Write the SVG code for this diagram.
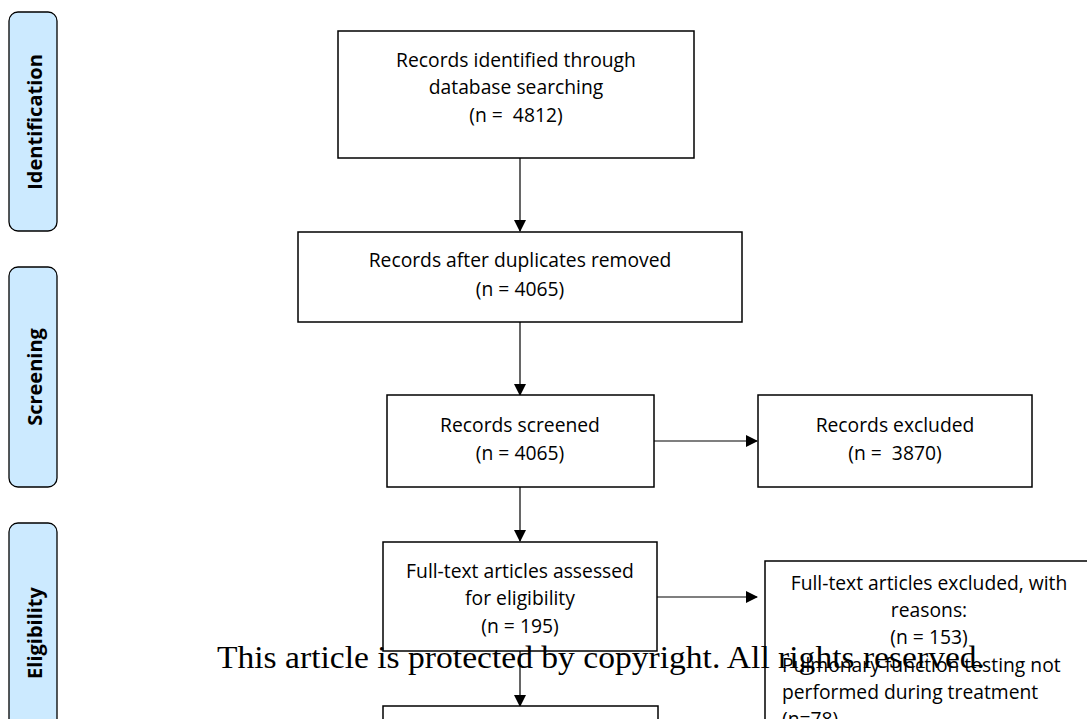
<svg xmlns="http://www.w3.org/2000/svg" width="1087" height="719" viewBox="0 0 1087 719">
<style>
.box{fill:#fff;stroke:#000;stroke-width:1.5}
.side{fill:#cceaff;stroke:#000;stroke-width:1.3}
.t{font-family:"Open Sans","Liberation Sans",sans-serif;font-size:19.3px;fill:#000;text-anchor:middle;white-space:pre}
.tl{font-family:"Open Sans","Liberation Sans",sans-serif;font-size:19.3px;fill:#000}
.st{font-family:"Open Sans","DejaVu Sans",sans-serif;font-size:20px;font-weight:bold;fill:#000;text-anchor:middle}
.c{stroke:#000;stroke-width:1.2;fill:none;marker-end:url(#ah)}
.wm{font-family:"Liberation Serif","DejaVu Serif",serif;font-size:32px;fill:#000}
</style>
<defs>
<marker id="ah" markerWidth="12" markerHeight="12" refX="11" refY="6" orient="auto" markerUnits="userSpaceOnUse">
<path d="M0,0 L12,6 L0,12 Z" fill="#000"/>
</marker>
</defs>
<rect width="1087" height="719" fill="#fff"/>
<g id="phase-identification">
<rect class="side" x="9" y="12" width="48" height="219" rx="9"/>
<text class="st" transform="translate(42,122) rotate(-90)">Identification</text>
</g>
<g id="phase-screening">
<rect class="side" x="9" y="267" width="48" height="220" rx="9"/>
<text class="st" transform="translate(42,377) rotate(-90)">Screening</text>
</g>
<g id="phase-eligibility">
<rect class="side" x="9" y="523" width="48" height="220" rx="9"/>
<text class="st" transform="translate(42,633) rotate(-90)">Eligibility</text>
</g>
<g id="connectors">
<line class="c" x1="520" y1="158" x2="520" y2="231"/>
<line class="c" x1="520" y1="322" x2="520" y2="395"/>
<line class="c" x1="654" y1="441" x2="757" y2="441"/>
<line class="c" x1="520" y1="487" x2="520" y2="541"/>
<line class="c" x1="657" y1="597" x2="757" y2="597"/>
<line class="c" x1="520" y1="651" x2="520" y2="706"/>
</g>
<g id="n1">
<rect class="box" x="338" y="31" width="356" height="127"/>
<text class="t" x="516" y="67">Records identified through</text>
<text class="t" x="516" y="94">database searching</text>
<text class="t" x="516" y="122" xml:space="preserve">(n =  4812)</text>
</g>
<g id="n2">
<rect class="box" x="298" y="232" width="444" height="90"/>
<text class="t" x="520" y="267">Records after duplicates removed</text>
<text class="t" x="520" y="296">(n = 4065)</text>
</g>
<g id="n3">
<rect class="box" x="387" y="395" width="267" height="92"/>
<text class="t" x="520" y="432">Records screened</text>
<text class="t" x="520" y="460">(n = 4065)</text>
</g>
<g id="n4">
<rect class="box" x="758" y="395" width="274" height="92"/>
<text class="t" x="895" y="432">Records excluded</text>
<text class="t" x="895" y="460" xml:space="preserve">(n =  3870)</text>
</g>
<g id="n5">
<rect class="box" x="383" y="542" width="274" height="109"/>
<text class="t" x="520" y="578">Full-text articles assessed</text>
<text class="t" x="520" y="605">for eligibility</text>
<text class="t" x="520" y="633">(n = 195)</text>
</g>
<g id="n6">
<rect class="box" x="765" y="561" width="340" height="200"/>
<text class="t" x="929" y="590">Full-text articles excluded, with</text>
<text class="t" x="929" y="617">reasons:</text>
<text class="t" x="929" y="644">(n = 153)</text>
<text class="tl" x="782" y="672">Pulmonary function testing not</text>
<text class="tl" x="782" y="699">performed during treatment</text>
<text class="tl" x="782" y="726">(n=78)</text>
</g>
<g id="n7">
<rect class="box" x="383" y="706" width="275" height="60"/>
</g>
<text class="wm" x="217" y="668" textLength="768" lengthAdjust="spacingAndGlyphs">This article is protected by copyright. All rights reserved.</text>
</svg>
